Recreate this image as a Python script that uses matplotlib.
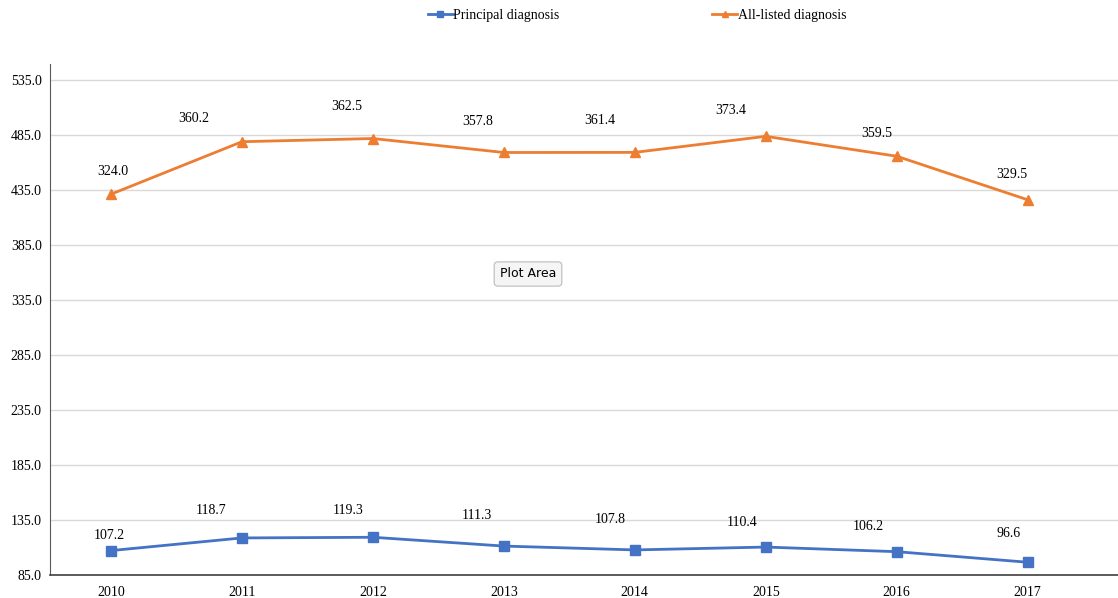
import numpy as np
import matplotlib
matplotlib.use("Agg")
import matplotlib.pyplot as plt

# data
years = ["2010", "2011", "2012", "2013", "2014", "2015", "2016", "2017"]
principal = [107.2, 118.7, 119.3, 111.3, 107.8, 110.4, 106.2, 96.6]
all_listed = [324.0, 360.2, 362.5, 357.8, 361.4, 373.4, 359.5, 329.5]
yticks = [85, 135, 185, 235, 285, 335, 385, 435, 485, 535]

# label offsets (pixels) as placed in the original
blue_dx = [-2, -31, -25, -27, -25, -24, -28, -19]
blue_dy = [15, 27, 27, 31, 30, 25, 25, 29]
orange_dx = [2, -48, -26, -26, -35, -35, -20, -16]
orange_dy = [23, 23, 32, 31, 32, 26, 23, 25]

BLUE = "#4472C4"
ORANGE = "#ED7D31"

plt.rcParams['font.family'] = ['Liberation Serif', 'DejaVu Serif']

fig = plt.figure(figsize=(11.18, 5.98), dpi=100)
ax = fig.add_axes([50 / 1118, 1 - 575 / 598, 1068 / 1118, (575 - 63.5) / 598])

x = np.arange(len(years))
stacked = np.array(principal) + np.array(all_listed)  # stacked line chart

ax.plot(x, principal, color=BLUE, lw=2, marker="s", ms=7, label="Principal diagnosis")
ax.plot(x, stacked, color=ORANGE, lw=2, marker="^", ms=7.5, label="All-listed diagnosis")

for i in range(len(years)):
    ax.annotate(f"{principal[i]:.1f}", (x[i], principal[i]), xytext=(blue_dx[i], blue_dy[i]),
                textcoords="offset pixels", ha="center", va="center", fontsize=10)
    ax.annotate(f"{all_listed[i]:.1f}", (x[i], stacked[i]), xytext=(orange_dx[i], orange_dy[i]),
                textcoords="offset pixels", ha="center", va="center", fontsize=10)

ax.set_ylim(85, 550)
ax.set_xlim(-0.466, 7.69)
ax.set_yticks(yticks)
ax.set_yticklabels([f"{v:.1f}" for v in yticks], fontsize=10)
ax.set_xticks(x)
ax.set_xticklabels(years, fontsize=10)
ax.tick_params(length=0, pad=8)
ax.tick_params(axis="y", pad=6)

ax.grid(axis="y", color="#D9D9D9", lw=1)
ax.set_axisbelow(True)
for s in ["top", "right"]:
    ax.spines[s].set_visible(False)
ax.spines["left"].set_color("#595959")
ax.spines["bottom"].set_color("#404040")
ax.spines["bottom"].set_linewidth(1.2)

fig.legend(loc="center", bbox_to_anchor=(637 / 1118, 1 - 15 / 598), ncol=2, frameon=False,
           fontsize=10, handlelength=1.8, handletextpad=0.05, columnspacing=11.0,
           markerscale=0.6)

# hover tooltip captured in the original screenshot
fig.text(528 / 1118, 1 - 274 / 598, "Plot Area", family="DejaVu Sans", fontsize=9,
         ha="center", va="center",
         bbox=dict(boxstyle="round,pad=0.45,rounding_size=0.3", fc="#F5F5F5", ec="#BBBBBB", lw=0.8))

fig.savefig("out.png", dpi=100)
